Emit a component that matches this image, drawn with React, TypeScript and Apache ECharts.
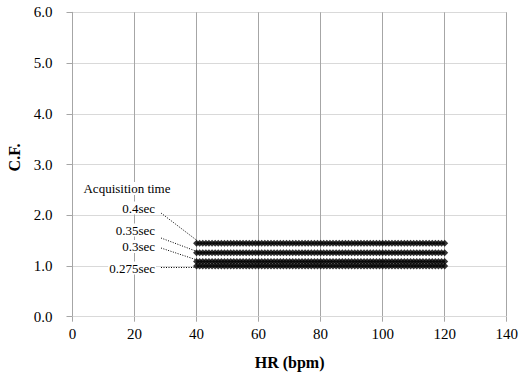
import React, { useEffect, useRef } from "react";
import * as echarts from "echarts";

const hrBpm = [
  40, 41, 42, 43, 44, 45, 46, 47, 48, 49, 50, 51, 52, 53, 54, 55, 56, 57, 58, 59,
  60, 61, 62, 63, 64, 65, 66, 67, 68, 69, 70, 71, 72, 73, 74, 75, 76, 77, 78, 79,
  80, 81, 82, 83, 84, 85, 86, 87, 88, 89, 90, 91, 92, 93, 94, 95, 96, 97, 98, 99,
  100, 101, 102, 103, 104, 105, 106, 107, 108, 109, 110, 111, 112, 113, 114, 115, 116, 117, 118, 119,
  120,
];

const cf04 = [
  1.45, 1.45, 1.45, 1.45, 1.45, 1.45, 1.45, 1.45, 1.45, 1.45, 1.45, 1.45, 1.45, 1.45, 1.45, 1.45, 1.45, 1.45, 1.45, 1.45,
  1.45, 1.45, 1.45, 1.45, 1.45, 1.45, 1.45, 1.45, 1.45, 1.45, 1.45, 1.45, 1.45, 1.45, 1.45, 1.45, 1.45, 1.45, 1.45, 1.45,
  1.45, 1.45, 1.45, 1.45, 1.45, 1.45, 1.45, 1.45, 1.45, 1.45, 1.45, 1.45, 1.45, 1.45, 1.45, 1.45, 1.45, 1.45, 1.45, 1.45,
  1.45, 1.45, 1.45, 1.45, 1.45, 1.45, 1.45, 1.45, 1.45, 1.45, 1.45, 1.45, 1.45, 1.45, 1.45, 1.45, 1.45, 1.45, 1.45, 1.45,
  1.45,
];
const cf035 = [
  1.26, 1.26, 1.26, 1.26, 1.26, 1.26, 1.26, 1.26, 1.26, 1.26, 1.26, 1.26, 1.26, 1.26, 1.26, 1.26, 1.26, 1.26, 1.26, 1.26,
  1.26, 1.26, 1.26, 1.26, 1.26, 1.26, 1.26, 1.26, 1.26, 1.26, 1.26, 1.26, 1.26, 1.26, 1.26, 1.26, 1.26, 1.26, 1.26, 1.26,
  1.26, 1.26, 1.26, 1.26, 1.26, 1.26, 1.26, 1.26, 1.26, 1.26, 1.26, 1.26, 1.26, 1.26, 1.26, 1.26, 1.26, 1.26, 1.26, 1.26,
  1.26, 1.26, 1.26, 1.26, 1.26, 1.26, 1.26, 1.26, 1.26, 1.26, 1.26, 1.26, 1.26, 1.26, 1.26, 1.26, 1.26, 1.26, 1.26, 1.26,
  1.26,
];
const cf03 = [
  1.09, 1.09, 1.09, 1.09, 1.09, 1.09, 1.09, 1.09, 1.09, 1.09, 1.09, 1.09, 1.09, 1.09, 1.09, 1.09, 1.09, 1.09, 1.09, 1.09,
  1.09, 1.09, 1.09, 1.09, 1.09, 1.09, 1.09, 1.09, 1.09, 1.09, 1.09, 1.09, 1.09, 1.09, 1.09, 1.09, 1.09, 1.09, 1.09, 1.09,
  1.09, 1.09, 1.09, 1.09, 1.09, 1.09, 1.09, 1.09, 1.09, 1.09, 1.09, 1.09, 1.09, 1.09, 1.09, 1.09, 1.09, 1.09, 1.09, 1.09,
  1.09, 1.09, 1.09, 1.09, 1.09, 1.09, 1.09, 1.09, 1.09, 1.09, 1.09, 1.09, 1.09, 1.09, 1.09, 1.09, 1.09, 1.09, 1.09, 1.09,
  1.09,
];
const cf0275 = [
  1.0, 1.0, 1.0, 1.0, 1.0, 1.0, 1.0, 1.0, 1.0, 1.0, 1.0, 1.0, 1.0, 1.0, 1.0, 1.0, 1.0, 1.0, 1.0, 1.0,
  1.0, 1.0, 1.0, 1.0, 1.0, 1.0, 1.0, 1.0, 1.0, 1.0, 1.0, 1.0, 1.0, 1.0, 1.0, 1.0, 1.0, 1.0, 1.0, 1.0,
  1.0, 1.0, 1.0, 1.0, 1.0, 1.0, 1.0, 1.0, 1.0, 1.0, 1.0, 1.0, 1.0, 1.0, 1.0, 1.0, 1.0, 1.0, 1.0, 1.0,
  1.0, 1.0, 1.0, 1.0, 1.0, 1.0, 1.0, 1.0, 1.0, 1.0, 1.0, 1.0, 1.0, 1.0, 1.0, 1.0, 1.0, 1.0, 1.0, 1.0,
  1.0,
];

const seriesNames = ["0.4sec", "0.35sec", "0.3sec", "0.275sec"];
const seriesValues = [cf04, cf035, cf03, cf0275];
const annotationTitle = "Acquisition time";
const xAxisTitle = "HR (bpm)";
const yAxisTitle = "C.F.";

const FONT = "Liberation Serif, Times New Roman, DejaVu Serif, serif";

export default function App() {
  const ref = useRef<HTMLDivElement>(null);
  useEffect(() => {
    document.body.style.margin = "0";
    if (!ref.current) return;
    const chart = echarts.init(ref.current, null, { renderer: "svg" });
    const series = seriesNames.map((name, i) => ({
      name,
      type: "scatter",
      symbol: "diamond",
      symbolSize: 7,
      itemStyle: { color: "#000" },
      data: hrBpm.map((h, j) => [h, seriesValues[i][j]]),
    }));

    const dotted = { stroke: "#000", lineWidth: 1, lineDash: [1, 1.5] };
    const labelStyle = (text: string, x: number, y: number, align: string) => ({
      type: "text",
      x,
      y,
      z: 100,
      style: {
        text,
        fontFamily: FONT,
        fontSize: 13,
        fill: "#000",
        align,
        verticalAlign: "middle",
        backgroundColor: "#fff",
        padding: [0, 1],
      },
    });

    chart.setOption({
      animation: false,
      textStyle: { fontFamily: FONT },
      grid: {
        left: 72.5,
        right: 13.3,
        top: 12.3,
        bottom: 55.3,
        containLabel: false,
        outerBoundsMode: "none",
      },
      xAxis: {
        type: "value",
        min: 0,
        max: 140,
        interval: 20,
        name: xAxisTitle,
        nameLocation: "middle",
        nameGap: 38,
        nameTextStyle: { fontFamily: FONT, fontSize: 16, fontWeight: "bold", color: "#000" },
        axisLine: { show: true, lineStyle: { color: "#d9d9d9" } },
        axisTick: { show: true, length: 5, lineStyle: { color: "#a6a6a6" } },
        axisLabel: { fontFamily: FONT, fontSize: 15, color: "#000", margin: 10 },
        splitLine: { show: true, lineStyle: { color: "#a6a6a6", width: 1 } },
      },
      yAxis: {
        type: "value",
        min: 0,
        max: 6,
        interval: 1,
        name: yAxisTitle,
        nameLocation: "middle",
        nameGap: 48,
        nameTextStyle: {
          fontFamily: FONT,
          fontSize: 16,
          fontWeight: "bold",
          color: "#000",
          padding: [0, 0, 0, 14],
        },
        axisLine: { show: true, lineStyle: { color: "#a6a6a6" } },
        axisTick: { show: true, length: 6, lineStyle: { color: "#a6a6a6" } },
        axisLabel: {
          fontFamily: FONT,
          fontSize: 15,
          color: "#000",
          margin: 20,
          formatter: (v: number) => v.toFixed(1),
        },
        splitLine: { show: true, lineStyle: { color: "#d9d9d9", width: 1 } },
      },
      series,
      graphic: [
        labelStyle(annotationTitle, 127, 188.5, "center"),
        labelStyle(seriesNames[0], 156, 208, "right"),
        labelStyle(seriesNames[1], 156, 230, "right"),
        labelStyle(seriesNames[2], 156, 246.5, "right"),
        labelStyle(seriesNames[3], 156, 268, "right"),
        { type: "line", z: 100, shape: { x1: 161, y1: 213, x2: 197, y2: 240.5 }, style: dotted },
        { type: "line", z: 100, shape: { x1: 161, y1: 238, x2: 197, y2: 251.5 }, style: dotted },
        { type: "line", z: 100, shape: { x1: 161, y1: 248, x2: 197, y2: 260 }, style: dotted },
        { type: "line", z: 100, shape: { x1: 161, y1: 267.5, x2: 196, y2: 267.5 }, style: dotted },
      ],
    });
    return () => chart.dispose();
  }, []);
  return <div ref={ref} style={{ width: 520, height: 372 }} />;
}
